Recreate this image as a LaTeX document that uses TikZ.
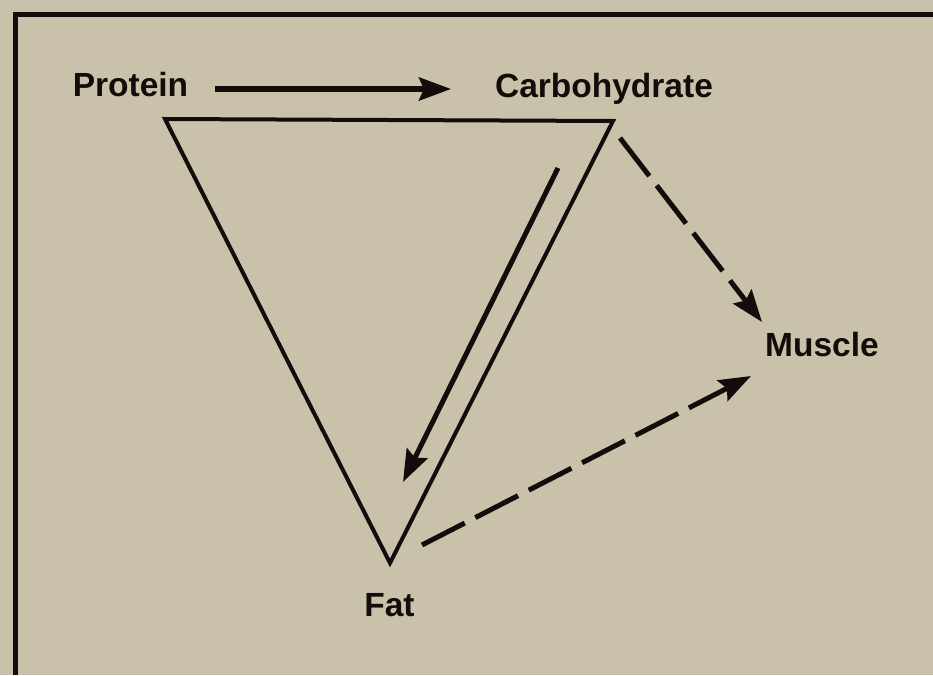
\documentclass[tikz,border=0pt]{standalone}
\usepackage{fontspec}
\setmainfont{Liberation Sans}
\usetikzlibrary{arrows.meta}
\definecolor{bgbeige}{RGB}{201,193,170}
\definecolor{ink}{RGB}{18,12,10}
\tikzset{
  label/.style={font=\fontsize{33.5}{40}\selectfont\bfseries, text=ink, anchor=base, inner sep=0pt},
  headtip/.style={-{Stealth[length=32pt,width=23pt,inset=5pt]}},
  solidarrow/.style={draw=ink, line width=5.5pt, headtip},
  dasharrow/.style={draw=ink, line width=5pt, dash pattern=on 48pt off 12pt, headtip},
  tri/.style={draw=ink, line width=4pt, line join=miter},
  frame/.style={draw=ink, line width=5pt}
}
\begin{document}
\begin{tikzpicture}[x=1pt,y=-1pt]
\fill[bgbeige] (0,0) rectangle (933,675);
\useasboundingbox (0,0) rectangle (933,675);
\draw[frame] (15,675) -- (15,14) -- (933,14);

\node[label] (protein) at (130.5,96) {Protein};
\node[label] (carb) at (604,97) {Carbohydrate};
\node[label] (muscle) at (822,356) {Muscle};
\node[label] (fat) at (389.5,616) {Fat};

\coordinate (tl) at (165,119);
\coordinate (tr) at (613,121);
\coordinate (bt) at (390,563);
\draw[tri] (tl) -- (tr) -- (bt) -- cycle;

\coordinate (pa1) at (215,89);
\coordinate (pa2) at (451,89);
\draw[solidarrow] (pa1) -- (pa2);

\coordinate (ia1) at (558,168);
\coordinate (ia2) at (403,482);
\draw[solidarrow, line width=5pt] (ia1) -- (ia2);

\coordinate (da1) at (620,138);
\coordinate (da2) at (762,322);
\draw[dasharrow] (da1) -- (da2);

\coordinate (db1) at (422,545);
\coordinate (db2) at (751,376);
\draw[dasharrow] (db1) -- (db2);
\end{tikzpicture}
\end{document}
